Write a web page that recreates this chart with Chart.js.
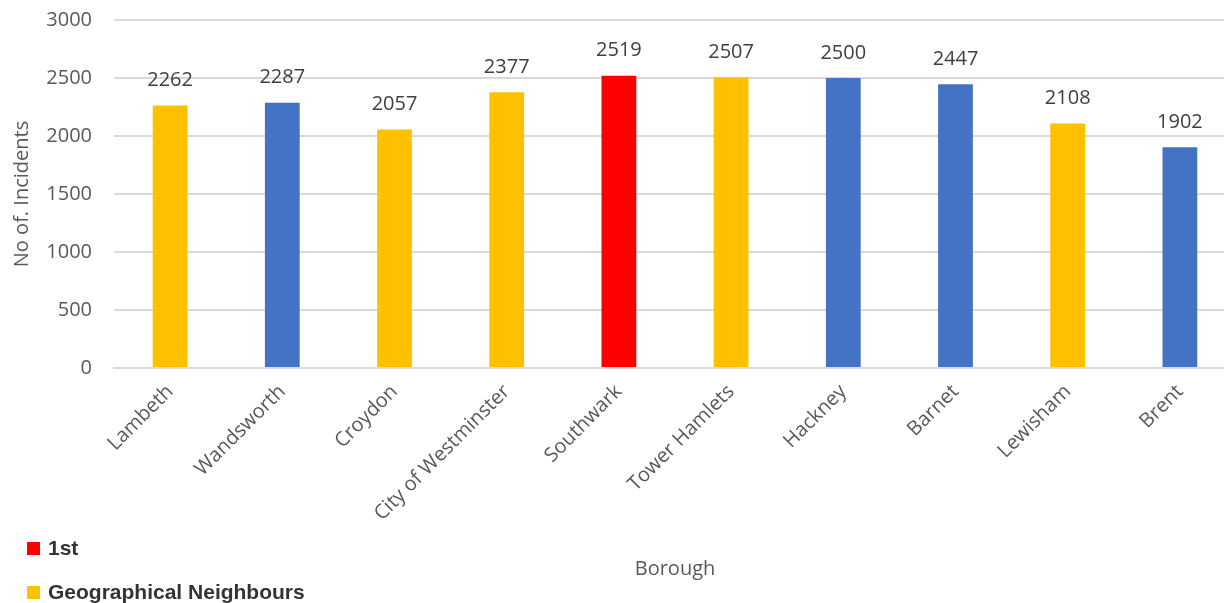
<!DOCTYPE html>
<html>
<head>
<meta charset="utf-8">
<script src="https://cdn.jsdelivr.net/npm/chart.js@4"></script>
<style>
  html, body { margin: 0; padding: 0; background: #fff; overflow: hidden; }
  #wrap { position: relative; width: 1224px; height: 603px; overflow: hidden; }
  #box { position: absolute; left: 0; top: 0; width: 1240px; height: 603px; }
  #legend { position: absolute; left: 27px; top: 532px; font-family: "Liberation Sans", Arial, sans-serif;
            font-weight: bold; font-size: 21px; color: #333; filter: blur(0.5px); }
  #legend div { height: 44px; line-height: 32px; }
  #legend span { display: inline-block; width: 13px; height: 13px; margin-right: 8px; vertical-align: 0px; }
</style>
</head>
<body>
<div id="wrap">
  <div id="box"><canvas id="incChart"></canvas></div>
  <div id="legend">
    <div><span style="background:#FF0000"></span>1st</div>
    <div><span style="background:#FFC000"></span>Geographical Neighbours</div>
  </div>
</div>
<script>
// boroughs and incident counts
const boroughs = ["Lambeth", "Wandsworth", "Croydon", "City of Westminster", "Southwark",
                  "Tower Hamlets", "Hackney", "Barnet", "Lewisham", "Brent"];
const incidents = [2262, 2287, 2057, 2377, 2519, 2507, 2500, 2447, 2108, 1902];
// 1 = first, 2 = geographical neighbour, 0 = other
const groups = [2, 0, 2, 2, 1, 2, 0, 0, 2, 0];
const yTicks = [0, 500, 1000, 1500, 2000, 2500, 3000];

const groupColors = ["#4472C4", "#FF0000", "#FFC000"];
const txt = "#595959";
const fnt = "'Open Sans', sans-serif";

// value above each bar
const barLabels = {
    id: "barLabels",
    afterDatasetsDraw(chart) {
        const ctx = chart.ctx;
        const meta = chart.getDatasetMeta(0);
        ctx.save();
        ctx.font = "20px " + fnt;
        ctx.fillStyle = "#404040";
        ctx.textAlign = "center";
        ctx.textBaseline = "middle";
        meta.data.forEach((bar, i) => {
            ctx.fillText(incidents[i], bar.x, bar.y - 25);
        });
        ctx.restore();
    }
};

const ctx = document.getElementById("incChart").getContext("2d");
new Chart(ctx, {
    type: "bar",
    data: {
        labels: boroughs,
        datasets: [{
            data: incidents,
            backgroundColor: groups.map(g => groupColors[g]),
            barPercentage: 0.31,
            categoryPercentage: 1
        }]
    },
    options: {
        responsive: true,
        maintainAspectRatio: false,
        animation: false,
        layout: { padding: { top: 20, right: 4, bottom: 18, left: 0 } },
        plugins: { legend: { display: false }, tooltip: { enabled: false } },
        scales: {
            x: {
                grid: { display: false },
                border: { color: "#d9d9d9", width: 2 },
                ticks: { color: txt, font: { family: fnt, size: 20 }, minRotation: 45, maxRotation: 45, padding: 4 },
                title: { display: true, text: "Borough", color: txt, font: { family: fnt, size: 20 } },
                afterFit(scale) { scale.height = 217; scale.paddingLeft = 0; scale.paddingRight = 0; }
            },
            y: {
                min: 0, max: 3000,
                afterBuildTicks(scale) { scale.ticks = yTicks.map(v => ({ value: v })); },
                grid: { color: "#d9d9d9", lineWidth: 2, drawTicks: false },
                border: { display: false },
                ticks: { color: txt, font: { family: fnt, size: 20 }, padding: 22, callback: v => String(v) },
                title: { display: true, text: "No of. Incidents", color: txt, font: { family: fnt, size: 20 }, padding: { top: 10, bottom: 0 } },
                afterFit(scale) { scale.width = 114; scale.paddingTop = 0; scale.paddingBottom = 0; }
            }
        }
    },
    plugins: [barLabels]
});
</script>
</body>
</html>
